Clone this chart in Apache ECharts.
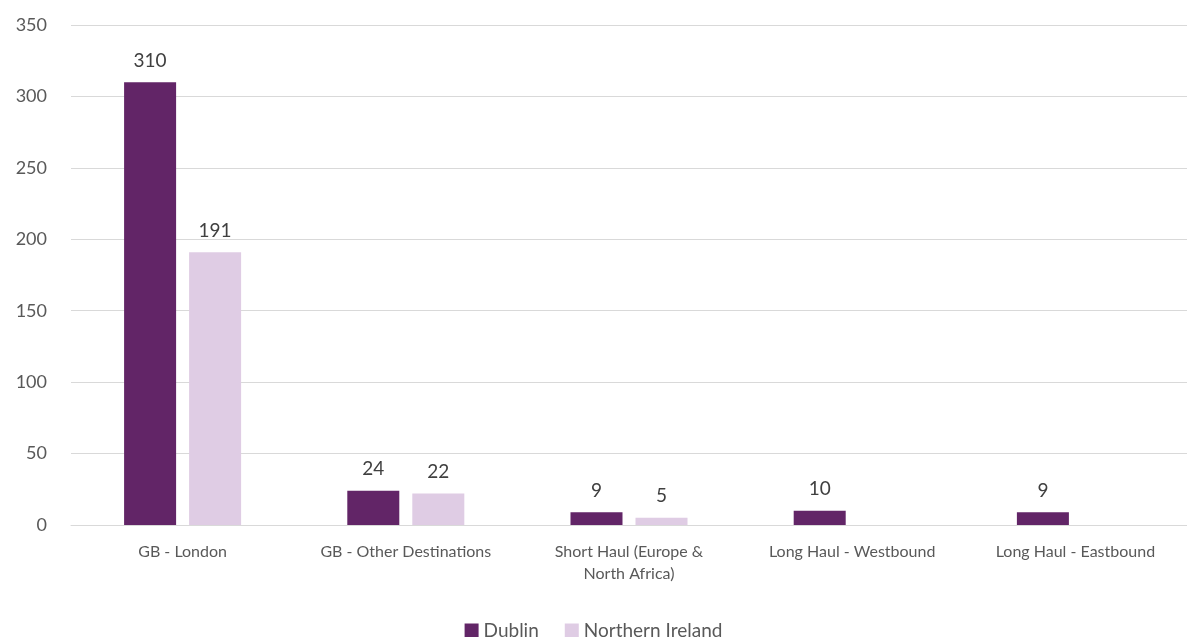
<!DOCTYPE html>
<html>
<head>
<meta charset="utf-8">
<script src="https://cdn.jsdelivr.net/npm/echarts@6/dist/echarts.min.js"></script>
<style>
  html, body { margin: 0; padding: 0; background: #fff; }
  #main { width: 1187px; height: 637px; }
</style>
</head>
<body>
<div id="main"></div>
<script>
var categories = ['GB - London', 'GB - Other Destinations', 'Short Haul (Europe &\nNorth Africa)', 'Long Haul - Westbound', 'Long Haul - Eastbound']
var dublin = [310, 24, 9, 10, 9]
var northernIreland = [191, 22, 5, null, null]

var myChart = echarts.init(document.getElementById('main'))
var font = 'Lato'

var option = {
    animation: false,
    textStyle: { fontFamily: font },
    grid: { left: 71, right: 0, top: 25, bottom: 112, containLabel: false },
    legend: {
        bottom: -8,
        left: 'center',
        itemWidth: 14,
        itemHeight: 14,
        itemGap: 26,
        icon: 'rect',
        textStyle: { fontSize: 19, color: '#595959', fontFamily: font },
        data: ['Dublin', 'Northern Ireland']
    },
    xAxis: {
        type: 'category',
        data: categories,
        axisTick: { show: false },
        axisLine: { lineStyle: { color: '#d9d9d9' } },
        axisLabel: { fontSize: 16, color: '#595959', margin: 16, lineHeight: 22, interval: 0 }
    },
    yAxis: {
        type: 'value',
        min: 0,
        max: 350,
        interval: 50,
        axisLine: { show: false },
        axisTick: { show: false },
        splitLine: { lineStyle: { color: '#d9d9d9', width: 1 } },
        axisLabel: { fontSize: 18, color: '#595959', margin: 24 }
    },
    series: [{
        name: 'Dublin',
        type: 'bar',
        data: dublin,
        barWidth: '23.3%',
        barGap: '25%',
        itemStyle: { color: '#622567' },
        label: { show: true, position: 'top', distance: 12, fontSize: 19, color: '#404040' }
    }, {
        name: 'Northern Ireland',
        type: 'bar',
        data: northernIreland,
        barWidth: '23.3%',
        itemStyle: { color: '#dfcce4' },
        label: { show: true, position: 'top', distance: 12, fontSize: 19, color: '#404040' }
    }]
}

myChart.setOption(option)
</script>
</body>
</html>
